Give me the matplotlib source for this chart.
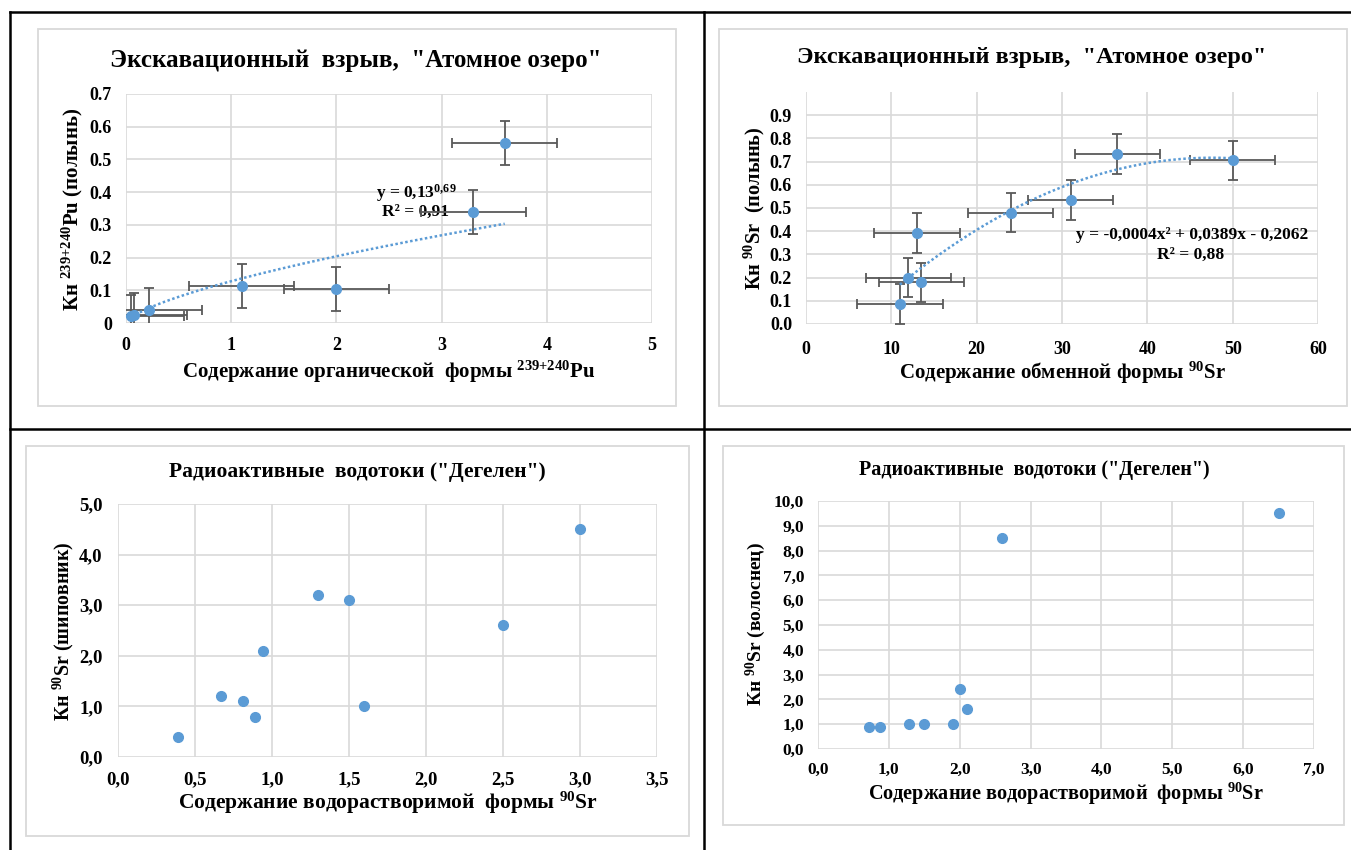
import numpy as np
import matplotlib
matplotlib.use('Agg')
import matplotlib.pyplot as plt
from matplotlib.patches import Rectangle
from matplotlib.lines import Line2D

plt.rcParams['font.family'] = ['Liberation Serif', 'DejaVu Serif']
plt.rcParams['font.weight'] = 'bold'
plt.rcParams['mathtext.fontset'] = 'custom'
plt.rcParams['mathtext.rm'] = 'Liberation Serif:bold'
plt.rcParams['mathtext.bf'] = 'Liberation Serif:bold'
plt.rcParams['mathtext.it'] = 'Liberation Serif:bold:italic'
plt.rcParams['mathtext.default'] = 'bf'

# "Атомное озеро", Pu (полынь)
pu_x = [0.05, 0.08, 0.22, 1.1, 2.0, 3.3, 3.6]
pu_y = [0.02, 0.025, 0.04, 0.113, 0.103, 0.34, 0.55]
pu_xerr = 0.5
pu_yerr = 0.067
pu_xticks = [0, 1, 2, 3, 4, 5]
pu_xlabels = ['0', '1', '2', '3', '4', '5']
pu_yticks = [0, 0.1, 0.2, 0.3, 0.4, 0.5, 0.6, 0.7]
pu_ylabels = ['0', '0.1', '0.2', '0.3', '0.4', '0.5', '0.6', '0.7']

# "Атомное озеро", Sr (полынь)
sr_x = [11, 12, 13.5, 13, 24, 31, 36.5, 50]
sr_y = [0.087, 0.2, 0.18, 0.393, 0.48, 0.535, 0.733, 0.705]
sr_xerr = 5
sr_yerr = 0.085
sr_xticks = [0, 10, 20, 30, 40, 50, 60]
sr_xlabels = ['0', '10', '20', '30', '40', '50', '60']
sr_yticks = [0, 0.1, 0.2, 0.3, 0.4, 0.5, 0.6, 0.7, 0.8, 0.9]
sr_ylabels = ['0.0', '0.1', '0.2', '0.3', '0.4', '0.5', '0.6', '0.7', '0.8', '0.9']

# "Дегелен", шиповник
rose_x = [0.39, 0.67, 0.81, 0.89, 0.94, 1.3, 1.5, 1.6, 2.5, 3.0]
rose_y = [0.4, 1.2, 1.1, 0.8, 2.1, 3.2, 3.1, 1.0, 2.6, 4.5]
rose_xticks = [0, 0.5, 1, 1.5, 2, 2.5, 3, 3.5]
rose_xlabels = ['0,0', '0,5', '1,0', '1,5', '2,0', '2,5', '3,0', '3,5']
rose_yticks = [0, 1, 2, 3, 4, 5]
rose_ylabels = ['0,0', '1,0', '2,0', '3,0', '4,0', '5,0']

# "Дегелен", волоснец
lym_x = [0.72, 0.87, 1.29, 1.5, 1.9, 2.0, 2.1, 2.6, 6.5]
lym_y = [0.9, 0.9, 1.0, 1.0, 1.0, 2.4, 1.6, 8.5, 9.5]
lym_xticks = [0, 1, 2, 3, 4, 5, 6, 7]
lym_xlabels = ['0,0', '1,0', '2,0', '3,0', '4,0', '5,0', '6,0', '7,0']
lym_yticks = list(range(11))
lym_ylabels = ['%d,0' % v for v in lym_yticks]

BLUE = '#5b9bd5'
GREY = '#d9d9d9'
W, H = 1351, 850

fig = plt.figure(figsize=(W / 100, H / 100), dpi=100)


def fx(x):
    return x / W


def fy(y):
    return 1 - y / H


def add_ax(x0, y0, x1, y1):
    return fig.add_axes([fx(x0), fy(y1), (x1 - x0) / W, (y1 - y0) / H])


def frame(x0, y0, x1, y1):
    fig.add_artist(Rectangle((fx(x0), fy(y1)), (x1 - x0) / W, (y1 - y0) / H,
                             fill=False, ec=GREY, lw=1.3))


def style(ax, xlim, ylim, xt, xl, yt, yl, fs=12, xpad=9, ypad=9):
    ax.set_xlim(xlim)
    ax.set_ylim(ylim)
    ax.set_xticks(xt, xl)
    ax.set_yticks(yt, yl)
    ax.tick_params(length=0, labelsize=fs)
    ax.tick_params(axis='x', pad=xpad)
    ax.tick_params(axis='y', pad=ypad)
    for s in ax.spines.values():
        s.set_visible(False)
    ax.grid(True, color=GREY, lw=1.2)
    ax.set_axisbelow(True)
    ax.patch.set_alpha(0)


def label(x, y, s, fs, rot=0):
    fig.text(fx(x), fy(y), s, ha='center', va='center', fontsize=fs, rotation=rot)


def errbars(ax, x, y, xe, ye):
    ax.errorbar(x, y, xerr=xe, yerr=ye, fmt='none', ecolor='#595959',
                elinewidth=1.3, capsize=3.5, capthick=1.3, zorder=2)


# cell borders
for xs, ys in [([10, W], [12, 12]), ([10, W], [429, 429]),
               ([10, 10], [12, H]), ([704, 704], [12, H])]:
    fig.add_artist(Line2D([fx(v) for v in xs], [fy(v) for v in ys], color='black', lw=1.8))

# ---- top left ----
frame(38, 29, 676, 406)
ax = add_ax(126, 94, 652, 323)
style(ax, (0, 5), (0, 0.7), pu_xticks, pu_xlabels, pu_yticks, pu_ylabels, fs=13, xpad=10, ypad=10)
errbars(ax, pu_x, pu_y, pu_xerr, pu_yerr)
# power trendline, fitted in log space like Excel does
b, log_a = np.polyfit(np.log(pu_x), np.log(pu_y), 1)
xs = np.linspace(min(pu_x), max(pu_x), 200)
ax.plot(xs, np.exp(log_a) * xs ** b, color=BLUE, lw=1.8, ls=(0, (1, 1)), zorder=2.5)
ax.plot(pu_x, pu_y, 'o', color=BLUE, ms=7, zorder=3, clip_on=False)
ax.text(fx(416), fy(193), 'y = 0,13$^{\\mathbf{0{,}69}}$', transform=fig.transFigure,
        ha='center', va='center', fontsize=12.5, zorder=1)
ax.text(fx(416), fy(212), 'R² = 0,91', transform=fig.transFigure,
        ha='center', va='center', fontsize=12.5, zorder=1)
label(356, 60, 'Экскавационный  взрыв,  "Атомное озеро"', 18)
label(389, 372, 'Содержание органической  формы $^{\\mathbf{239{+}240}}$Pu', 15)
label(72, 209, 'Кн $^{\\mathbf{239{+}240}}$Pu (полынь)', 15, rot=90)

# ---- top right ----
frame(719, 29, 1347, 406)
ax = add_ax(806, 92, 1318, 324)
style(ax, (0, 60), (0, 1.0), sr_xticks, sr_xlabels, sr_yticks, sr_ylabels, fs=13, xpad=12, ypad=10)
errbars(ax, sr_x, sr_y, sr_xerr, sr_yerr)
# quadratic trendline
coef = np.polyfit(sr_x, sr_y, 2)
xs = np.linspace(min(sr_x), max(sr_x), 200)
ax.plot(xs, np.polyval(coef, xs), color=BLUE, lw=1.8, ls=(0, (1, 1)), zorder=2.5)
ax.plot(sr_x, sr_y, 'o', color=BLUE, ms=7, zorder=3, clip_on=False)
ax.text(fx(1192), fy(235), 'y = -0,0004x² + 0,0389x - 0,2062', transform=fig.transFigure,
        ha='center', va='center', fontsize=12.5, zorder=1)
ax.text(fx(1191), fy(255), 'R² = 0,88', transform=fig.transFigure,
        ha='center', va='center', fontsize=12.5, zorder=1)
label(1032, 57, 'Экскавационный взрыв,  "Атомное озеро"', 17.5)
label(1063, 373, 'Содержание обменной формы $^{\\mathbf{90}}$Sr', 15)
label(754, 208, 'Кн $^{\\mathbf{90}}$Sr  (полынь)', 14.7, rot=90)

# ---- bottom left ----
frame(26, 446, 689, 836)
ax = add_ax(118, 504, 657, 757)
style(ax, (0, 3.5), (0, 5), rose_xticks, rose_xlabels, rose_yticks, rose_ylabels, fs=13.5, xpad=10, ypad=11)
ax.plot(rose_x, rose_y, 'o', color=BLUE, ms=7, zorder=3, clip_on=False)
label(357, 472, 'Радиоактивные  водотоки ("Дегелен")', 15.5)
label(388, 803, 'Содержание водорастворимой  формы $^{\\mathbf{90}}$Sr', 15.5)
label(63, 631, 'Кн $^{\\mathbf{90}}$Sr (шиповник)', 14.3, rot=90)

# ---- bottom right ----
frame(723, 446, 1344, 825)
ax = add_ax(818, 501, 1314, 749)
style(ax, (0, 7), (0, 10), lym_xticks, lym_xlabels, lym_yticks, lym_ylabels, fs=12.5, xpad=9, ypad=10)
ax.plot(lym_x, lym_y, 'o', color=BLUE, ms=7, zorder=3, clip_on=False)
label(1034, 470, 'Радиоактивные  водотоки ("Дегелен")', 14.5)
label(1066, 794, 'Содержание водорастворимой  формы $^{\\mathbf{90}}$Sr', 14.6)
label(756, 624, 'Кн $^{\\mathbf{90}}$Sr (волоснец)', 14, rot=90)

fig.savefig('out.png', dpi=100)
